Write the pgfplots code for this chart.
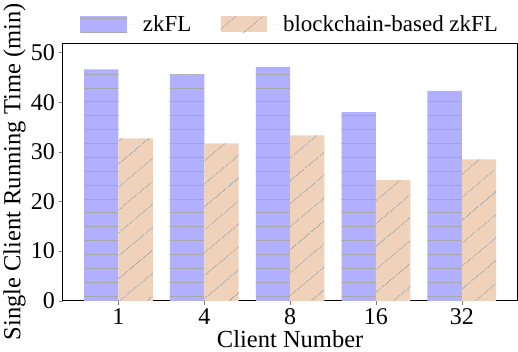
\documentclass[border=0pt]{standalone}
\usepackage{fontspec}
\setmainfont{Liberation Serif}
\usepackage{pgfplots}
\pgfplotsset{compat=1.18}
\usetikzlibrary{patterns.meta}
\definecolor{zkblue}{HTML}{B0B0FF}
\definecolor{bcorange}{HTML}{F0D2BA}
\definecolor{hatch}{HTML}{A8A8A8}
\begin{document}
\begin{tikzpicture}[x=1pt,y=1pt]
\begin{axis}[
  scale only axis, width=436pt, height=247pt,
  ymin=0, ymax=51.9, xmin=-0.65, xmax=4.65,
  xtick={0,1,2,3,4}, xticklabels={1,4,8,16,32},
  ytick={0,10,20,30,40,50},
  tick align=outside, tick pos=left, major tick length=4pt,
  tick label style={font=\fontsize{23}{25}\selectfont},
  /pgf/number format/assume math mode=true,
  xlabel={Client Number}, ylabel={Single Client Running Time (min)},
  label style={font=\fontsize{23.5}{25}\selectfont},
  xlabel style={yshift=1pt}, ylabel style={yshift=-2pt},
  axis line style={black, line width=0.8pt},
  legend style={at={(0.5,1.02)}, anchor=south, draw=none, fill=none,
    legend columns=2, font=\fontsize{22}{24}\selectfont,
    /tikz/every even column/.append style={column sep=26pt}},
  legend image code/.code={\fill[#1] (0pt,-7pt) rectangle (45pt,8pt); \path (45pt,0pt) -- (58pt,0pt);},
]
\addplot[ybar, bar width=0.4, bar shift=-0.2, draw=none, fill=zkblue,
  postaction={pattern={Lines[angle=0,distance=13.3pt,line width=0.9pt]}, pattern color=hatch}]
  coordinates {(0,46.6) (1,45.6) (2,47.1) (3,38.0) (4,42.3)};
\addplot[ybar, bar width=0.4, bar shift=0.2, draw=none, fill=bcorange,
  postaction={pattern={Lines[angle=40,distance=17pt,line width=0.9pt]}, pattern color=hatch}]
  coordinates {(0,32.7) (1,31.7) (2,33.3) (3,24.3) (4,28.5)};
\legend{zkFL, blockchain-based zkFL}
\end{axis}
\end{tikzpicture}
\end{document}
